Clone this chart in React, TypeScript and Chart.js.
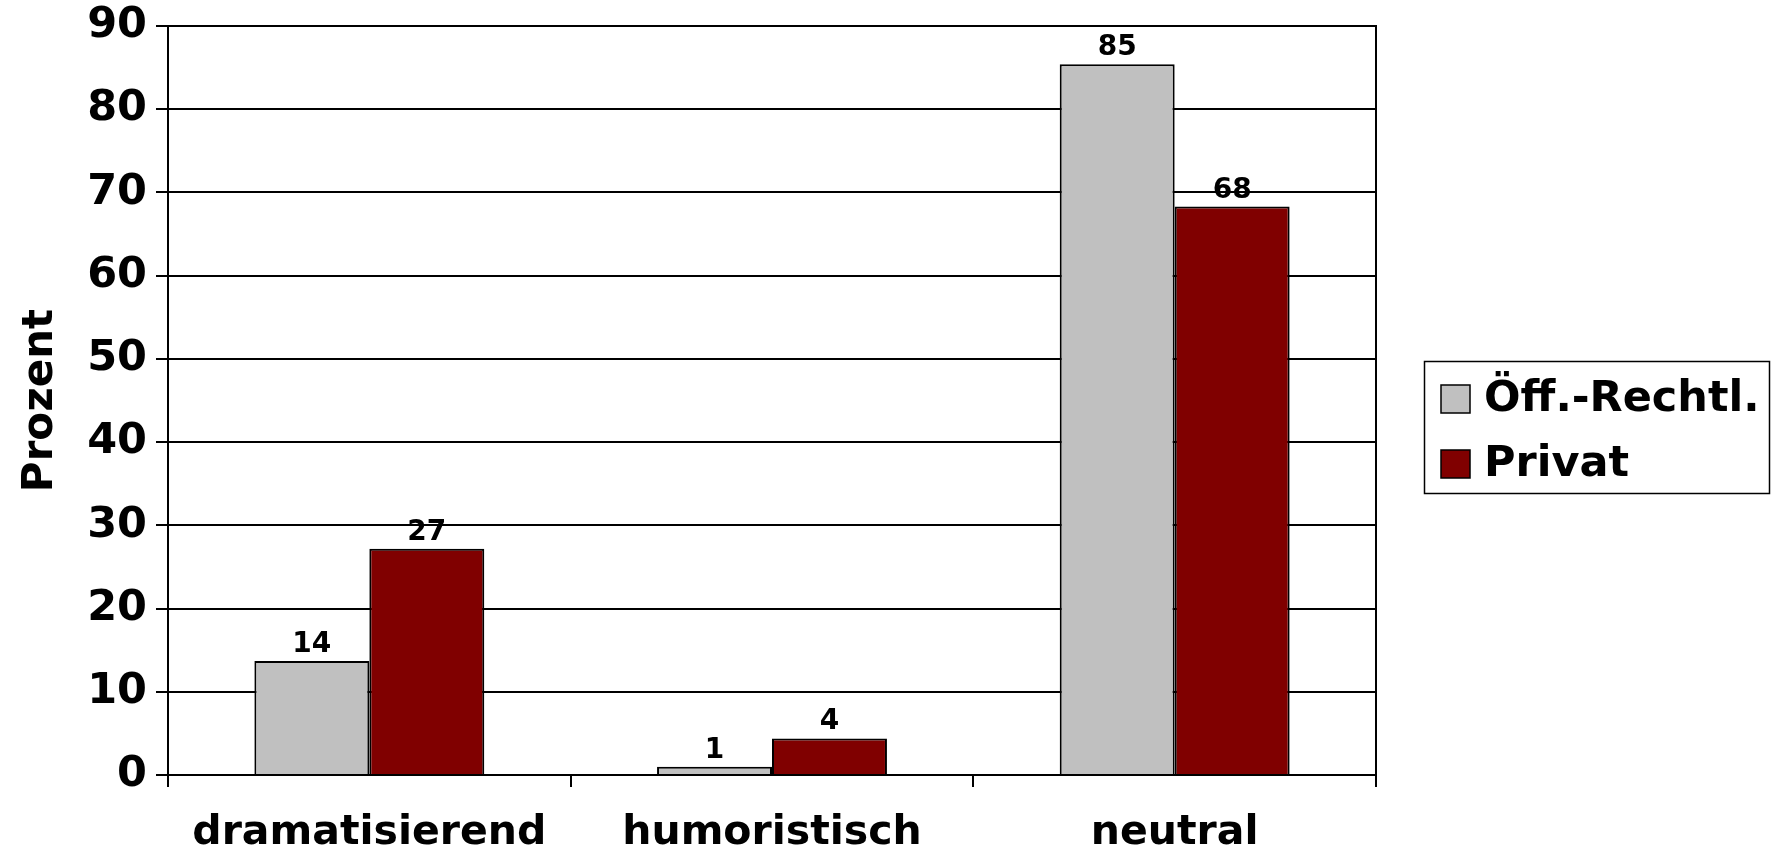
import React, { useEffect, useRef } from "react";
import { Chart, registerables } from "chart.js";

Chart.register(...registerables);

const categories = ["dramatisierend", "humoristisch", "neutral"];
const seriesNames = ["Öff.-Rechtl.", "Privat"];
const oeffRechtl = [13.7, 1.0, 85.4];
const privat = [27.2, 4.4, 68.3];
const yTicks = [0, 10, 20, 30, 40, 50, 60, 70, 80, 90];

const FONT = "'DejaVu Sans', Verdana, sans-serif";

const labelPlugin = {
  id: "barLabels",
  afterDatasetsDraw(chart: any) {
    const ctx = chart.ctx;
    ctx.save();
    ctx.font = `bold 28px ${FONT}`;
    ctx.fillStyle = "#000";
    ctx.textAlign = "center";
    ctx.textBaseline = "alphabetic";
    chart.data.datasets.forEach((ds: any, di: number) => {
      const meta = chart.getDatasetMeta(di);
      meta.data.forEach((bar: any, i: number) => {
        const v = ds.data[i];
        ctx.fillText(String(Math.round(v)), bar.x, bar.y - 9);
      });
    });
    ctx.restore();
  },
};

const framePlugin = {
  id: "frameAndLegend",
  afterDraw(chart: any) {
    const ctx = chart.ctx;
    const a = chart.chartArea;
    ctx.save();
    ctx.strokeStyle = "#000";
    ctx.lineWidth = 2;
    ctx.beginPath();
    ctx.moveTo(a.left, a.top);
    ctx.lineTo(a.right, a.top);
    ctx.lineTo(a.right, a.bottom);
    ctx.stroke();

    // legend box
    const lx = 1424, ly = 361, lw = 345, lh = 132;
    ctx.lineWidth = 1.5;
    ctx.strokeRect(lx + 0.5, ly + 0.5, lw, lh);
    ctx.font = `bold 43px ${FONT}`;
    ctx.textBaseline = "middle";
    ctx.textAlign = "left";
    chart.data.datasets.forEach((ds: any, i: number) => {
      const cy = 399 + i * 65;
      ctx.fillStyle = ds.backgroundColor;
      ctx.fillRect(1441, cy - 14, 29, 28);
      ctx.lineWidth = 1.5;
      ctx.strokeStyle = "#000";
      ctx.strokeRect(1441, cy - 14, 29, 28);
      ctx.fillStyle = "#000";
      ctx.fillText(ds.label, 1484, cy + 1);
    });
    ctx.restore();
  },
};

export default function App() {
  const ref = useRef<HTMLCanvasElement>(null);
  useEffect(() => {
    document.body.style.margin = "0";
    const chart = new Chart(ref.current!, {
      type: "bar",
      data: {
        labels: categories,
        datasets: [
          {
            label: seriesNames[0],
            data: oeffRechtl,
            backgroundColor: "#C0C0C0",
            borderColor: "#000",
            borderWidth: 2,
            categoryPercentage: 0.571,
            barPercentage: 1,
          },
          {
            label: seriesNames[1],
            data: privat,
            backgroundColor: "#800000",
            borderColor: "#000",
            borderWidth: 2,
            categoryPercentage: 0.571,
            barPercentage: 1,
          },
        ],
      },
      options: {
        animation: false,
        responsive: false,
        maintainAspectRatio: false,
        layout: { padding: { top: 0, right: 395, bottom: 0, left: 0 } },
        plugins: {
          legend: { display: false },
          tooltip: { enabled: false },
        },
        scales: {
          x: {
            grid: {
              display: true,
              drawOnChartArea: false,
              drawTicks: true,
              tickLength: 12,
              color: "#000",
              lineWidth: 2,
            },
            border: { display: true, color: "#000", width: 2 },
            ticks: {
              color: "#000",
              font: { family: FONT, size: 41, weight: "bold" },
              padding: 22,
              maxRotation: 0,
              autoSkip: false,
            },
            afterFit: (s: any) => {
              s.height = 75;
              s.paddingLeft = 0;
              s.paddingRight = 0;
            },
          },
          y: {
            min: 0,
            max: 90,
            afterBuildTicks: (s: any) => {
              s.ticks = yTicks.map((v) => ({ value: v }));
            },
            grid: {
              color: "#000",
              lineWidth: 2,
              tickLength: 12,
              drawTicks: true,
            },
            border: { display: true, color: "#000", width: 2 },
            ticks: {
              color: "#000",
              font: { family: FONT, size: 43, weight: "bold" },
              padding: 9,
            },
            title: {
              display: true,
              text: "Prozent",
              color: "#000",
              font: { family: FONT, size: 42, weight: "bold" },
              padding: { top: 16, bottom: 0 },
            },
            afterFit: (s: any) => {
              s.width = 168;
              s.paddingTop = 26;
              s.paddingBottom = 0;
            },
          },
        },
      },
      plugins: [labelPlugin, framePlugin],
    });
    return () => chart.destroy();
  }, []);
  return (
    <div style={{ position: "absolute", left: 0, top: 0, width: 1771, height: 850, background: "#fff" }}>
      <canvas ref={ref} width={1771} height={850} style={{ width: 1771, height: 850 }} />
    </div>
  );
}
